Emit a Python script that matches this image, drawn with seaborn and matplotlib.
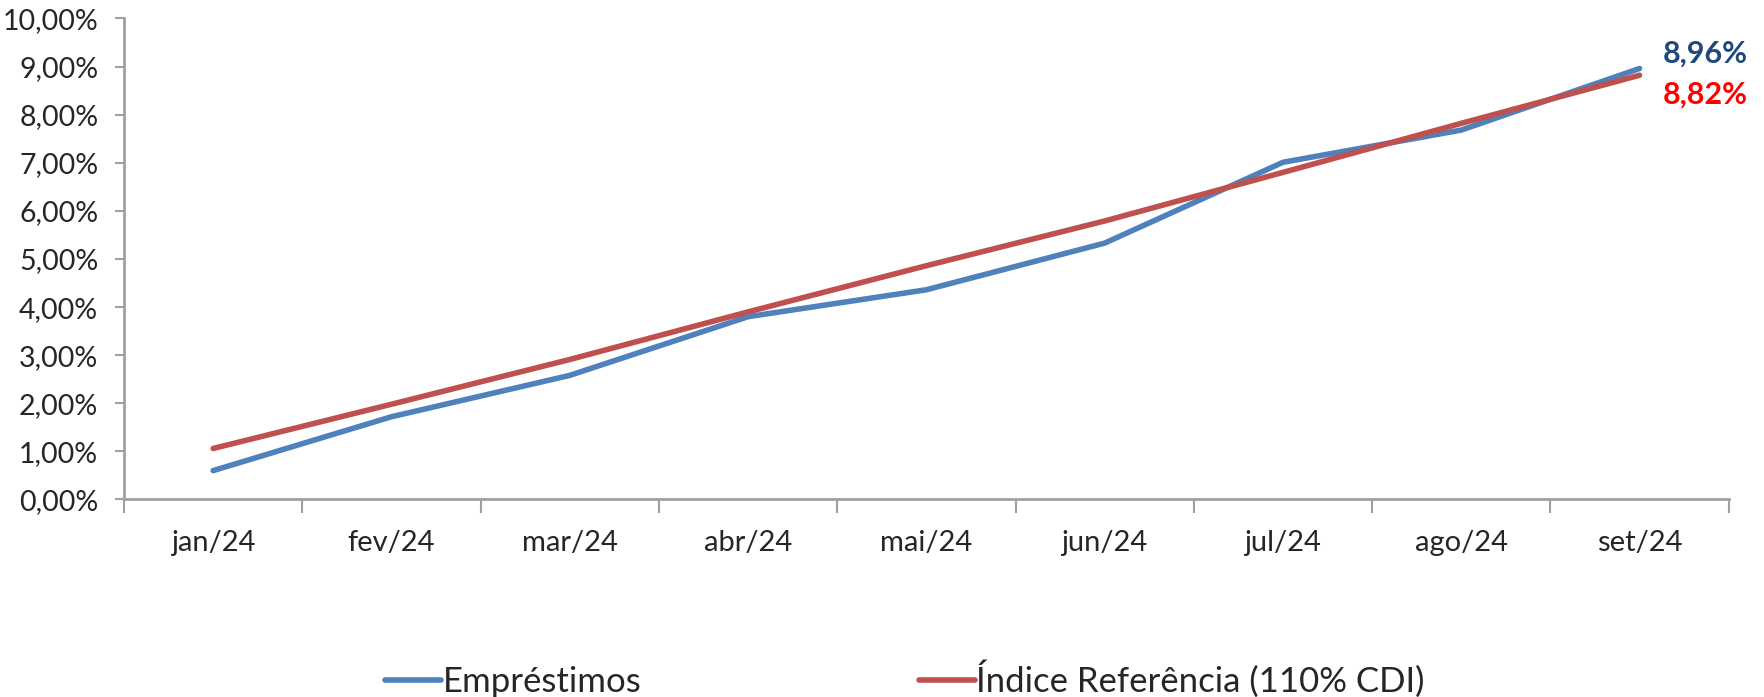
import numpy as np
import pandas as pd
import matplotlib
matplotlib.use("Agg")
import matplotlib.pyplot as plt
import seaborn as sns
from matplotlib.ticker import FuncFormatter, FixedLocator

# data (accumulated return, %)
meses = ['jan/24', 'fev/24', 'mar/24', 'abr/24', 'mai/24',
         'jun/24', 'jul/24', 'ago/24', 'set/24']
emprestimos = [0.60, 1.72, 2.58, 3.80, 4.36, 5.33, 7.01, 7.68, 8.96]
indice_ref = [1.06, 1.98, 2.91, 3.90, 4.86, 5.79, 6.80, 7.82, 8.82]
serie_nomes = ['Empréstimos', 'Índice Referência (110% CDI)']

df = pd.DataFrame({
    'pos': list(range(len(meses))) * 2,
    'valor': emprestimos + indice_ref,
    'serie': [serie_nomes[0]] * len(meses) + [serie_nomes[1]] * len(meses),
})

sns.set_style("white")
plt.rcParams['font.family'] = ['Lato', 'DejaVu Sans']

azul = '#4F81BD'
vermelho = '#C0504D'
eixo = '#A0A0A0'

fig = plt.figure(figsize=(17.64, 6.97), dpi=100)
ax = fig.add_axes([0.0703, 0.2834, 0.9097, 0.6901])

sns.lineplot(data=df, x='pos', y='valor', hue='serie',
             palette=[azul, vermelho], linewidth=4, ax=ax,
             legend=False, solid_capstyle='round')

ax.set_xlim(-0.5, len(meses) - 0.5)
ax.set_ylim(0, 10)
ax.set_xlabel('')
ax.set_ylabel('')

# y axis
ax.set_yticks(np.arange(0, 11, 1))
ax.yaxis.set_major_formatter(FuncFormatter(lambda v, p: f'{v:.2f}'.replace('.', ',') + '%'))
ax.tick_params(axis='y', which='major', length=6.5, width=1.5, color=eixo,
               labelsize=20.5, pad=12, left=True)

# x axis: labels at categories, tick marks between them
ax.set_xticks(range(len(meses)))
ax.set_xticklabels(meses)
ax.xaxis.set_minor_locator(FixedLocator(np.arange(-0.5, len(meses), 1)))
ax.tick_params(axis='x', which='major', length=0, labelsize=21, pad=22)
ax.tick_params(axis='x', which='minor', length=10, width=1.5, color=eixo,
               bottom=True)

for s in ['top', 'right']:
    ax.spines[s].set_visible(False)
for s in ['left', 'bottom']:
    ax.spines[s].set_color(eixo)
    ax.spines[s].set_linewidth(2)

# end labels
ax.annotate(f'{emprestimos[-1]:.2f}'.replace('.', ',') + '%',
            xy=(len(meses) - 1, emprestimos[-1]), xytext=(17, 11),
            textcoords='offset points', color='#1F497D', fontsize=22,
            fontweight='bold', va='center', ha='left')
ax.annotate(f'{indice_ref[-1]:.2f}'.replace('.', ',') + '%',
            xy=(len(meses) - 1, indice_ref[-1]), xytext=(17, -14),
            textcoords='offset points', color='#FF0000', fontsize=22,
            fontweight='bold', va='center', ha='left')

handles = [plt.Line2D([], [], color=azul, lw=4),
           plt.Line2D([], [], color=vermelho, lw=4)]
fig.legend(handles, serie_nomes, loc='center', bbox_to_anchor=(0.513, 0.026),
           ncol=2, frameon=False, fontsize=25, handlelength=1.6,
           handletextpad=0.05, columnspacing=8.0)

fig.savefig('out.png', dpi=100)
